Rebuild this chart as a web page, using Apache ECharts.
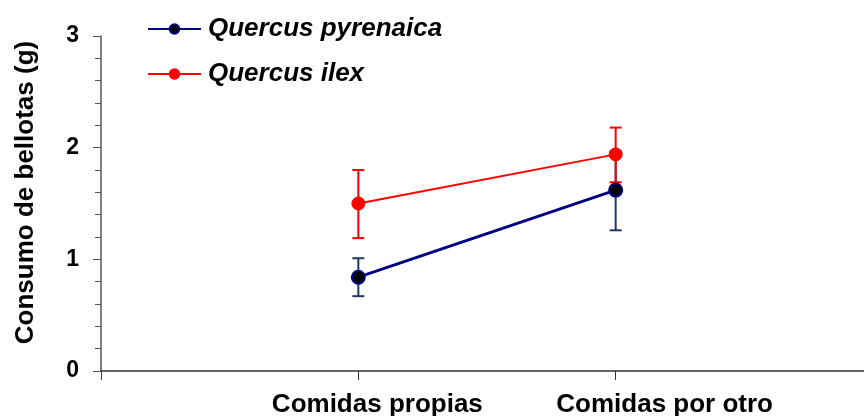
<!DOCTYPE html>
<html>
<head>
<meta charset="utf-8">
<script src="https://cdn.jsdelivr.net/npm/echarts@6/dist/echarts.min.js"></script>
<style>
  html, body { margin: 0; padding: 0; background: #fff; }
  #chart { width: 864px; height: 416px; }
</style>
</head>
<body>
<div id="chart"></div>
<script>
// Treatment groups, placed at x = 1 and x = 2 on a 0..3 axis
const categories = ['Comidas propias', 'Comidas por otro'];
const categoryPos = [1, 2];

// Mean acorn consumption (g) and error bar limits
const pyrenaicaMean = [0.84, 1.62];
const pyrenaicaLow  = [0.67, 1.26];
const pyrenaicaHigh = [1.01, 1.97];

const ilexMean = [1.50, 1.94];
const ilexLow  = [1.19, 1.69];
const ilexHigh = [1.80, 2.18];

const yTicks = [0, 1, 2, 3];

const FONT = "'Liberation Sans', Arial, sans-serif";

function pairs(xs, ys) { return xs.map((x, i) => [x, ys[i]]); }
function errData(xs, lo, hi) { return xs.map((x, i) => [x, lo[i], hi[i]]); }

function errorBar(color) {
  return function (params, api) {
    const x = api.value(0);
    const lo = api.coord([x, api.value(1)]);
    const hi = api.coord([x, api.value(2)]);
    const cap = 6;
    const style = { stroke: color, lineWidth: 2 };
    return {
      type: 'group',
      children: [
        { type: 'line', shape: { x1: lo[0], y1: lo[1], x2: hi[0], y2: hi[1] }, style },
        { type: 'line', shape: { x1: lo[0] - cap, y1: lo[1], x2: lo[0] + cap, y2: lo[1] }, style },
        { type: 'line', shape: { x1: hi[0] - cap, y1: hi[1], x2: hi[0] + cap, y2: hi[1] }, style }
      ]
    };
  };
}

const labelFont = { fontFamily: FONT, fontSize: 26, fontWeight: 'bold', color: '#000' };

const chart = echarts.init(document.getElementById('chart'), null, { renderer: 'canvas' });

chart.setOption({
  animation: false,
  backgroundColor: '#ffffff',
  grid: { left: 101, top: 36, height: 335, width: 772, containLabel: false, outerBoundsMode: 'none' },
  legend: {
    orient: 'vertical',
    left: 147,
    top: 16,
    padding: 0,
    itemWidth: 53,
    itemHeight: 12,
    itemGap: 19,
    data: ['Quercus pyrenaica', 'Quercus ilex'],
    textStyle: { fontFamily: FONT, fontSize: 26, fontWeight: 'bold', fontStyle: 'italic', color: '#000', padding: [0, 0, 0, 2] }
  },
  xAxis: {
    type: 'value',
    min: 0,
    max: 3,
    interval: 1,
    splitLine: { show: false },
    axisLine: { show: true, lineStyle: { color: '#333', width: 1.5 } },
    axisTick: { show: true, length: 9, lineStyle: { color: '#333' } },
    axisLabel: {
      margin: 21,
      ...labelFont,
      formatter: v => {
        const i = categoryPos.indexOf(v);
        return i >= 0 ? '{c' + i + '|' + categories[i] + '}' : '';
      },
      rich: {
        c0: { ...labelFont, padding: [0, 0, 0, 38] },
        c1: { ...labelFont, padding: [0, 0, 0, 98] }
      }
    }
  },
  yAxis: {
    type: 'value',
    min: yTicks[0],
    max: yTicks[yTicks.length - 1],
    interval: 1,
    name: 'Consumo de bellotas (g)',
    nameLocation: 'middle',
    nameRotate: 90,
    nameGap: 62,
    nameTextStyle: { fontFamily: FONT, fontSize: 26, fontWeight: 'bold', color: '#000', padding: [0, 0, 0, 22] },
    splitLine: { show: false },
    axisLine: { show: true, lineStyle: { color: '#555', width: 1.5 } },
    axisTick: { show: true, length: 8, lineStyle: { color: '#555' } },
    minorTick: { show: true, splitNumber: 5, length: 6, lineStyle: { color: '#555' } },
    axisLabel: { margin: 22, fontFamily: FONT, fontSize: 23, fontWeight: 'bold', color: '#000' }
  },
  series: [
    {
      name: 'pyrenaica-error',
      type: 'custom',
      renderItem: errorBar('#1f3864'),
      data: errData(categoryPos, pyrenaicaLow, pyrenaicaHigh),
      encode: { x: 0, y: [1, 2] },
      z: 2
    },
    {
      name: 'ilex-error',
      type: 'custom',
      renderItem: errorBar('#ff0000'),
      data: errData(categoryPos, ilexLow, ilexHigh),
      encode: { x: 0, y: [1, 2] },
      z: 2
    },
    {
      name: 'Quercus pyrenaica',
      type: 'line',
      data: pairs(categoryPos, pyrenaicaMean),
      symbol: 'circle',
      symbolSize: 13,
      color: '#000080',
      lineStyle: { color: '#000080', width: 3 },
      itemStyle: { color: '#000000', borderColor: '#000080', borderWidth: 2 },
      z: 3
    },
    {
      name: 'Quercus ilex',
      type: 'line',
      data: pairs(categoryPos, ilexMean),
      symbol: 'circle',
      symbolSize: 13,
      color: '#ff0000',
      lineStyle: { color: '#ff0000', width: 2 },
      itemStyle: { color: '#ff0000', borderColor: '#ff0000', borderWidth: 1 },
      z: 4
    }
  ]
});
</script>
</body>
</html>
